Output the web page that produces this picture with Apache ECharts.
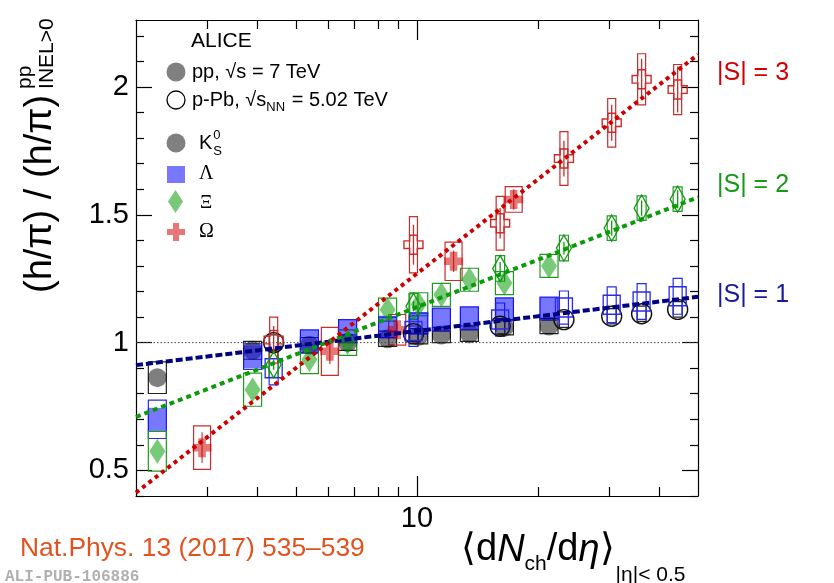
<!DOCTYPE html>
<html>
<head>
<meta charset="utf-8">
<script src="https://cdn.jsdelivr.net/npm/echarts@6/dist/echarts.min.js"></script>
<style>
html, body { margin: 0; padding: 0; background: #fff; }
#chart { width: 834px; height: 583px; }
</style>
</head>
<body>
<div id="chart"></div>
<script>
// multiplicity classes, <dNch/deta>
const xPP = [2.26, 3.90, 5.40, 6.72, 8.45, 10.1, 11.5, 13.5, 16.5, 21.3];
const xPPb = [4.4, 9.8, 16.1, 23.2, 30.5, 36.2, 44.5];
const xOmegaPP = [2.92, 6.07, 8.93, 12.33, 17.4];

// K0S
const kaonPP = [0.863, 0.97, 0.99, 1.0, 1.015, 1.025, 1.03, 1.035, 1.06, 1.065];
const kaonPPSys = [0.062, 0.035, 0.03, 0.03, 0.03, 0.03, 0.03, 0.03, 0.03, 0.03];
const kaonPPb = [1.0, 1.035, 1.064, 1.09, 1.103, 1.113, 1.13];
const kaonPPbSys = [0.03, 0.03, 0.03, 0.03, 0.03, 0.03, 0.03];
// Lambda
const lambdaPP = [0.70, 0.945, 1.005, 1.045, 1.06, 1.075, 1.09, 1.095, 1.13, 1.133];
const lambdaPPSys = [0.075, 0.05, 0.045, 0.045, 0.04, 0.04, 0.045, 0.045, 0.045, 0.045];
const lambdaPPb = [0.90, 1.045, 1.09, 1.137, 1.148, 1.161, 1.181];
const lambdaPPbSys = [0.065, 0.06, 0.065, 0.065, 0.07, 0.07, 0.07];
// Xi
const xiPP = [0.575, 0.816, 0.934, 1.0, 1.129, 1.15, 1.187, 1.246, 1.233, 1.30];
const xiPPSys = [0.078, 0.065, 0.055, 0.05, 0.045, 0.045, 0.045, 0.045, 0.045, 0.045];
const xiPPb = [0.914, 1.142, 1.29, 1.37, 1.448, 1.526, 1.561];
const xiPPbSys = [0.05, 0.05, 0.05, 0.05, 0.048, 0.048, 0.048];
const xiPPbStat = [0.02, 0.02, 0.025, 0.025, 0.03, 0.03, 0.035];
// Omega
const omegaPP = [0.589, 0.966, 1.05, 1.318, 1.56];
const omegaPPSys = [0.085, 0.094, 0.06, 0.075, 0.05];
const omegaPPStat = [0.06, 0.05, 0.03, 0.042, 0.04];
const omegaPPb = [1.01, 1.383, 1.467, 1.72, 1.86, 2.03, 1.99];
const omegaPPbSys = [0.09, 0.11, 0.105, 0.105, 0.095, 0.1, 0.098];
const omegaPPbStat = [0.055, 0.078, 0.06, 0.07, 0.07, 0.08, 0.09];

// fits, straight in log x
const fitX = [2, 50];
const fitS1 = [0.912, 1.179];
const fitS2 = [0.709, 1.569];
const fitS3 = [0.413, 2.127];

const xMajorTicks = [10];
const xMinorTicks = [3, 4, 5, 6, 7, 8, 9, 20, 30, 40];
const yMajorTicks = [0.5, 1, 1.5, 2];
const yMinorTicks = [0.4, 0.6, 0.7, 0.8, 0.9, 1.1, 1.2, 1.3, 1.4, 1.6, 1.7, 1.8, 1.9, 2.1, 2.2];

const FONT = '"Liberation Sans", Arial, sans-serif';
const SERIF = '"Liberation Serif", "DejaVu Serif", serif';
const CROSS = 'path://M3,0h4v3h3v4h-3v3h-4v-3h-3v-4h3z';

const C = {
    gray: 'rgba(0,0,0,0.5)',
    blue: 'rgba(0,0,255,0.53)',
    green: 'rgba(0,153,0,0.53)',
    red: 'rgba(204,0,0,0.53)',
    blueLine: '#2a2ae8',
    greenLine: '#229922',
    redLine: '#cc2b2b',
    black: '#222'
};

const ctx = document.createElement('canvas').getContext('2d');
function fontStr(size, italic, family, weight) {
    return (italic ? 'italic ' : '') + (weight ? weight + ' ' : '') + size + 'px ' + (family || FONT);
}
function textEl(x, y, text, font, color, rot) {
    return {
        type: 'text', x: x, y: y, rotation: rot || 0, silent: true,
        style: {
            text: text, font: font, fill: color,
            textAlign: 'left', align: 'left',
            textVerticalAlign: 'middle', verticalAlign: 'middle'
        }
    };
}
// lays out a run of text pieces, measuring widths so sub/superscripts follow
function textRun(ox, oy, parts, color, rotated) {
    const els = [];
    let adv = 0;
    parts.forEach(p => {
        const font = fontStr(p.size, p.italic, p.family, p.weight);
        const dy = p.dy || 0;
        const lx = adv + (p.dx || 0);
        if (rotated) {
            els.push(textEl(ox + dy, oy - lx, p.t, font, color, Math.PI / 2));
        } else {
            els.push(textEl(ox + lx, oy + dy, p.t, font, color));
        }
        ctx.font = font;
        if (!p.stay) adv = lx + ctx.measureText(p.t).width;
    });
    return els;
}

function pts(xs, ys, sys, stat) {
    return xs.map((x, i) => [x, ys[i], sys ? sys[i] : 0, stat ? stat[i] : 0]);
}

function boxSeries(data, width, color) {
    return {
        type: 'custom',
        data: data,
        encode: { x: 0, y: 1 },
        renderItem: function (params, api) {
            const x = api.value(0), y = api.value(1), sys = api.value(2);
            const c = api.coord([x, y]);
            const top = api.coord([x, y + sys])[1];
            const bot = api.coord([x, y - sys])[1];
            return {
                type: 'rect',
                shape: { x: c[0] - width / 2, y: top, width: width, height: bot - top },
                style: { fill: 'none', stroke: color, lineWidth: 1.2 }
            };
        }
    };
}

function statSeries(data, color) {
    return {
        type: 'custom',
        data: data,
        encode: { x: 0, y: 1 },
        renderItem: function (params, api) {
            const x = api.value(0), y = api.value(1), st = api.value(3);
            const c = api.coord([x, y]);
            const a = api.coord([x, y + st])[1];
            const b = api.coord([x, y - st])[1];
            return {
                type: 'line',
                shape: { x1: c[0], y1: a, x2: c[0], y2: b },
                style: { stroke: color, lineWidth: 1.3 }
            };
        }
    };
}

function markers(data, symbol, size, fill, stroke) {
    return {
        type: 'scatter',
        data: data.map(d => [d[0], d[1]]),
        symbol: symbol,
        symbolSize: size,
        symbolKeepAspect: false,
        itemStyle: {
            color: fill,
            borderColor: stroke || fill,
            borderWidth: stroke ? 1.4 : 0,
            opacity: 1
        }
    };
}

function fitLine(ys, color, dash) {
    return {
        type: 'line',
        data: fitX.map((x, i) => [x, ys[i]]),
        symbol: 'none',
        lineStyle: { color: color, width: 4, type: dash }
    };
}

const kPP = pts(xPP, kaonPP, kaonPPSys);
const kPPb = pts(xPPb, kaonPPb, kaonPPbSys);
const lPP = pts(xPP, lambdaPP, lambdaPPSys);
const lPPb = pts(xPPb, lambdaPPb, lambdaPPbSys);
const xPPd = pts(xPP, xiPP, xiPPSys);
const xPPbd = pts(xPPb, xiPPb, xiPPbSys, xiPPbStat);
const oPP = pts(xOmegaPP, omegaPP, omegaPPSys, omegaPPStat);
const oPPb = pts(xPPb, omegaPPb, omegaPPbSys, omegaPPbStat);

const axisBase = {
    type: 'log', logBase: 10, min: 2, max: 50,
    splitLine: { show: false }, minorTick: { show: false }
};
const lineOn = { show: true, onZero: false, lineStyle: { color: '#000', width: 1.2 } };
const lineOff = { show: false, onZero: false };

function xAx(pos, ticks, len, labels, showLine) {
    return Object.assign({}, axisBase, {
        position: pos,
        axisLine: showLine ? lineOn : lineOff,
        axisTick: { show: true, inside: true, length: len, customValues: ticks, lineStyle: { color: '#000', width: 1.2 } },
        axisLabel: labels
            ? { show: true, customValues: ticks, fontSize: 29, fontFamily: FONT, color: '#000', margin: 8 }
            : { show: false }
    });
}
function yAx(pos, ticks, len, labels, showLine) {
    return {
        type: 'value', min: 0.4, max: 2.262, position: pos,
        splitLine: { show: false },
        axisLine: showLine ? lineOn : lineOff,
        axisTick: { show: true, inside: true, length: len, customValues: ticks, lineStyle: { color: '#000', width: 1.2 } },
        axisLabel: labels
            ? { show: true, customValues: ticks, fontSize: 29, fontFamily: FONT, color: '#000', margin: 7,
                formatter: v => String(v) }
            : { show: false }
    };
}

const graphics = [].concat(
    // y title
    textRun(41, 293, [
        { t: '(h/\u03c0) / (h/\u03c0)', size: 38 },
        { t: 'pp', size: 21, dy: -16, dx: 6, stay: true },
        { t: 'INEL>0', size: 21, dy: 6, dx: 6 }
    ], '#000', true),
    // x title
    textRun(461, 550, [
        { t: '\u27e8d', size: 38 },
        { t: 'N', size: 38, italic: true },
        { t: 'ch', size: 21, dy: 14 },
        { t: '/d', size: 38 },
        { t: '\u03b7', size: 38, italic: true },
        { t: '\u27e9', size: 38 },
        { t: '|\u03b7|< 0.5', size: 21, dy: 25, dx: 1 }
    ], '#000', false),
    // legend
    [textEl(191, 41, 'ALICE', fontStr(21), '#000')],
    [{ type: 'circle', shape: { cx: 176, cy: 72, r: 9.5 }, style: { fill: '#808080' } }],
    textRun(192, 72, [{ t: 'pp, \u221as = 7 TeV', size: 20 }], '#000', false),
    [{ type: 'circle', shape: { cx: 176, cy: 100, r: 9 }, style: { fill: 'none', stroke: '#000', lineWidth: 1.3 } }],
    textRun(192, 100, [
        { t: 'p-Pb, \u221as', size: 20 },
        { t: 'NN', size: 13, dy: 7 },
        { t: ' = 5.02 TeV', size: 20, dx: 1 }
    ], '#000', false),
    [{ type: 'circle', shape: { cx: 176, cy: 143, r: 9.5 }, style: { fill: '#808080' } }],
    textRun(199, 143, [
        { t: 'K', size: 20 },
        { t: '0', size: 13, dy: -8, dx: 1, stay: true },
        { t: 'S', size: 13, dy: 8, dx: 1 }
    ], '#000', false),
    [{ type: 'rect', shape: { x: 167, y: 166, width: 18, height: 17 }, style: { fill: '#7878ff' } }],
    [textEl(199, 174, '\u039b', fontStr(20, false, SERIF), '#000')],
    [{ type: 'polygon', shape: { points: [[175.5, 190], [183, 201.5], [175.5, 213], [168, 201.5]] }, style: { fill: '#78c878' } }],
    [textEl(200, 203, '\u039e', fontStr(19, false, SERIF), '#000')],
    [{ type: 'polygon', shape: { points: [[173, 223], [179, 223], [179, 229], [185, 229], [185, 235], [179, 235], [179, 241], [173, 241], [173, 235], [167, 235], [167, 229], [173, 229]] }, style: { fill: '#e87878' } }],
    [textEl(199, 232, '\u03a9', fontStr(20, false, SERIF), '#000')],
    // strangeness labels
    [textEl(717, 73, '|S| = 3', fontStr(25), '#d00000')],
    [textEl(717, 185, '|S| = 2', fontStr(25), '#159a15')],
    [textEl(717, 295, '|S| = 1', fontStr(25), '#1a1a9a')],
    // footer
    [textEl(20, 549, 'Nat.Phys. 13 (2017) 535\u2013539', fontStr(26.4), '#e0521f')],
    [textEl(5, 577, 'ALI-PUB-106886', fontStr(16, false, '"Liberation Mono", monospace', 'bold'), '#b0b0b0')]
);

const chart = echarts.init(document.getElementById('chart'), null, { renderer: 'canvas' });
chart.setOption({
    animation: false,
    backgroundColor: '#fff',
    grid: { left: 136, right: 136, top: 20, bottom: 87, containLabel: false, outerBoundsMode: 'none' },
    xAxis: [
        xAx('bottom', xMajorTicks, 20, true, true),
        xAx('bottom', xMinorTicks, 9, false, false),
        xAx('top', xMajorTicks, 20, false, true),
        xAx('top', xMinorTicks, 9, false, false)
    ],
    yAxis: [
        yAx('left', yMajorTicks, 16, true, true),
        yAx('left', yMinorTicks, 8, false, false),
        yAx('right', yMajorTicks, 16, false, true),
        yAx('right', yMinorTicks, 8, false, false)
    ],
    series: [
        {
            type: 'line', data: fitX.map(x => [x, 1]), symbol: 'none',
            lineStyle: { color: '#444', width: 1, type: [1.5, 2] }
        },
        boxSeries(kPP, 18, C.black),
        boxSeries(lPP, 18, C.blueLine),
        boxSeries(xPPd, 18, C.greenLine),
        boxSeries(oPP, 17, C.redLine),
        boxSeries(kPPb, 9, C.black),
        boxSeries(lPPb, 9, C.blueLine),
        boxSeries(xPPbd, 9, C.greenLine),
        boxSeries(oPPb, 8, C.redLine),
        markers(kPP, 'circle', 19, C.gray),
        markers(lPP, 'rect', [19, 23], C.blue),
        markers(xPPd, 'diamond', [16, 25], C.green),
        markers(oPP, CROSS, [19, 19], C.red),
        markers(kPPb, 'circle', 20, 'rgba(0,0,0,0)', '#111'),
        markers(lPPb, 'rect', [17, 19], 'rgba(0,0,0,0)', C.blueLine),
        markers(xPPbd, 'diamond', [15, 26], 'rgba(0,0,0,0)', '#119911'),
        markers(oPPb, CROSS, [19, 19], 'rgba(0,0,0,0)', C.redLine),
        statSeries(xPPbd, '#119911'),
        statSeries(oPP, '#d04848'),
        statSeries(oPPb, C.redLine),
        fitLine(fitS1, '#000080', [7, 3]),
        fitLine(fitS2, '#0a9a0a', [5, 4]),
        fitLine(fitS3, '#cc0000', [4, 4])
    ],
    graphic: { elements: graphics }
});
</script>
</body>
</html>
